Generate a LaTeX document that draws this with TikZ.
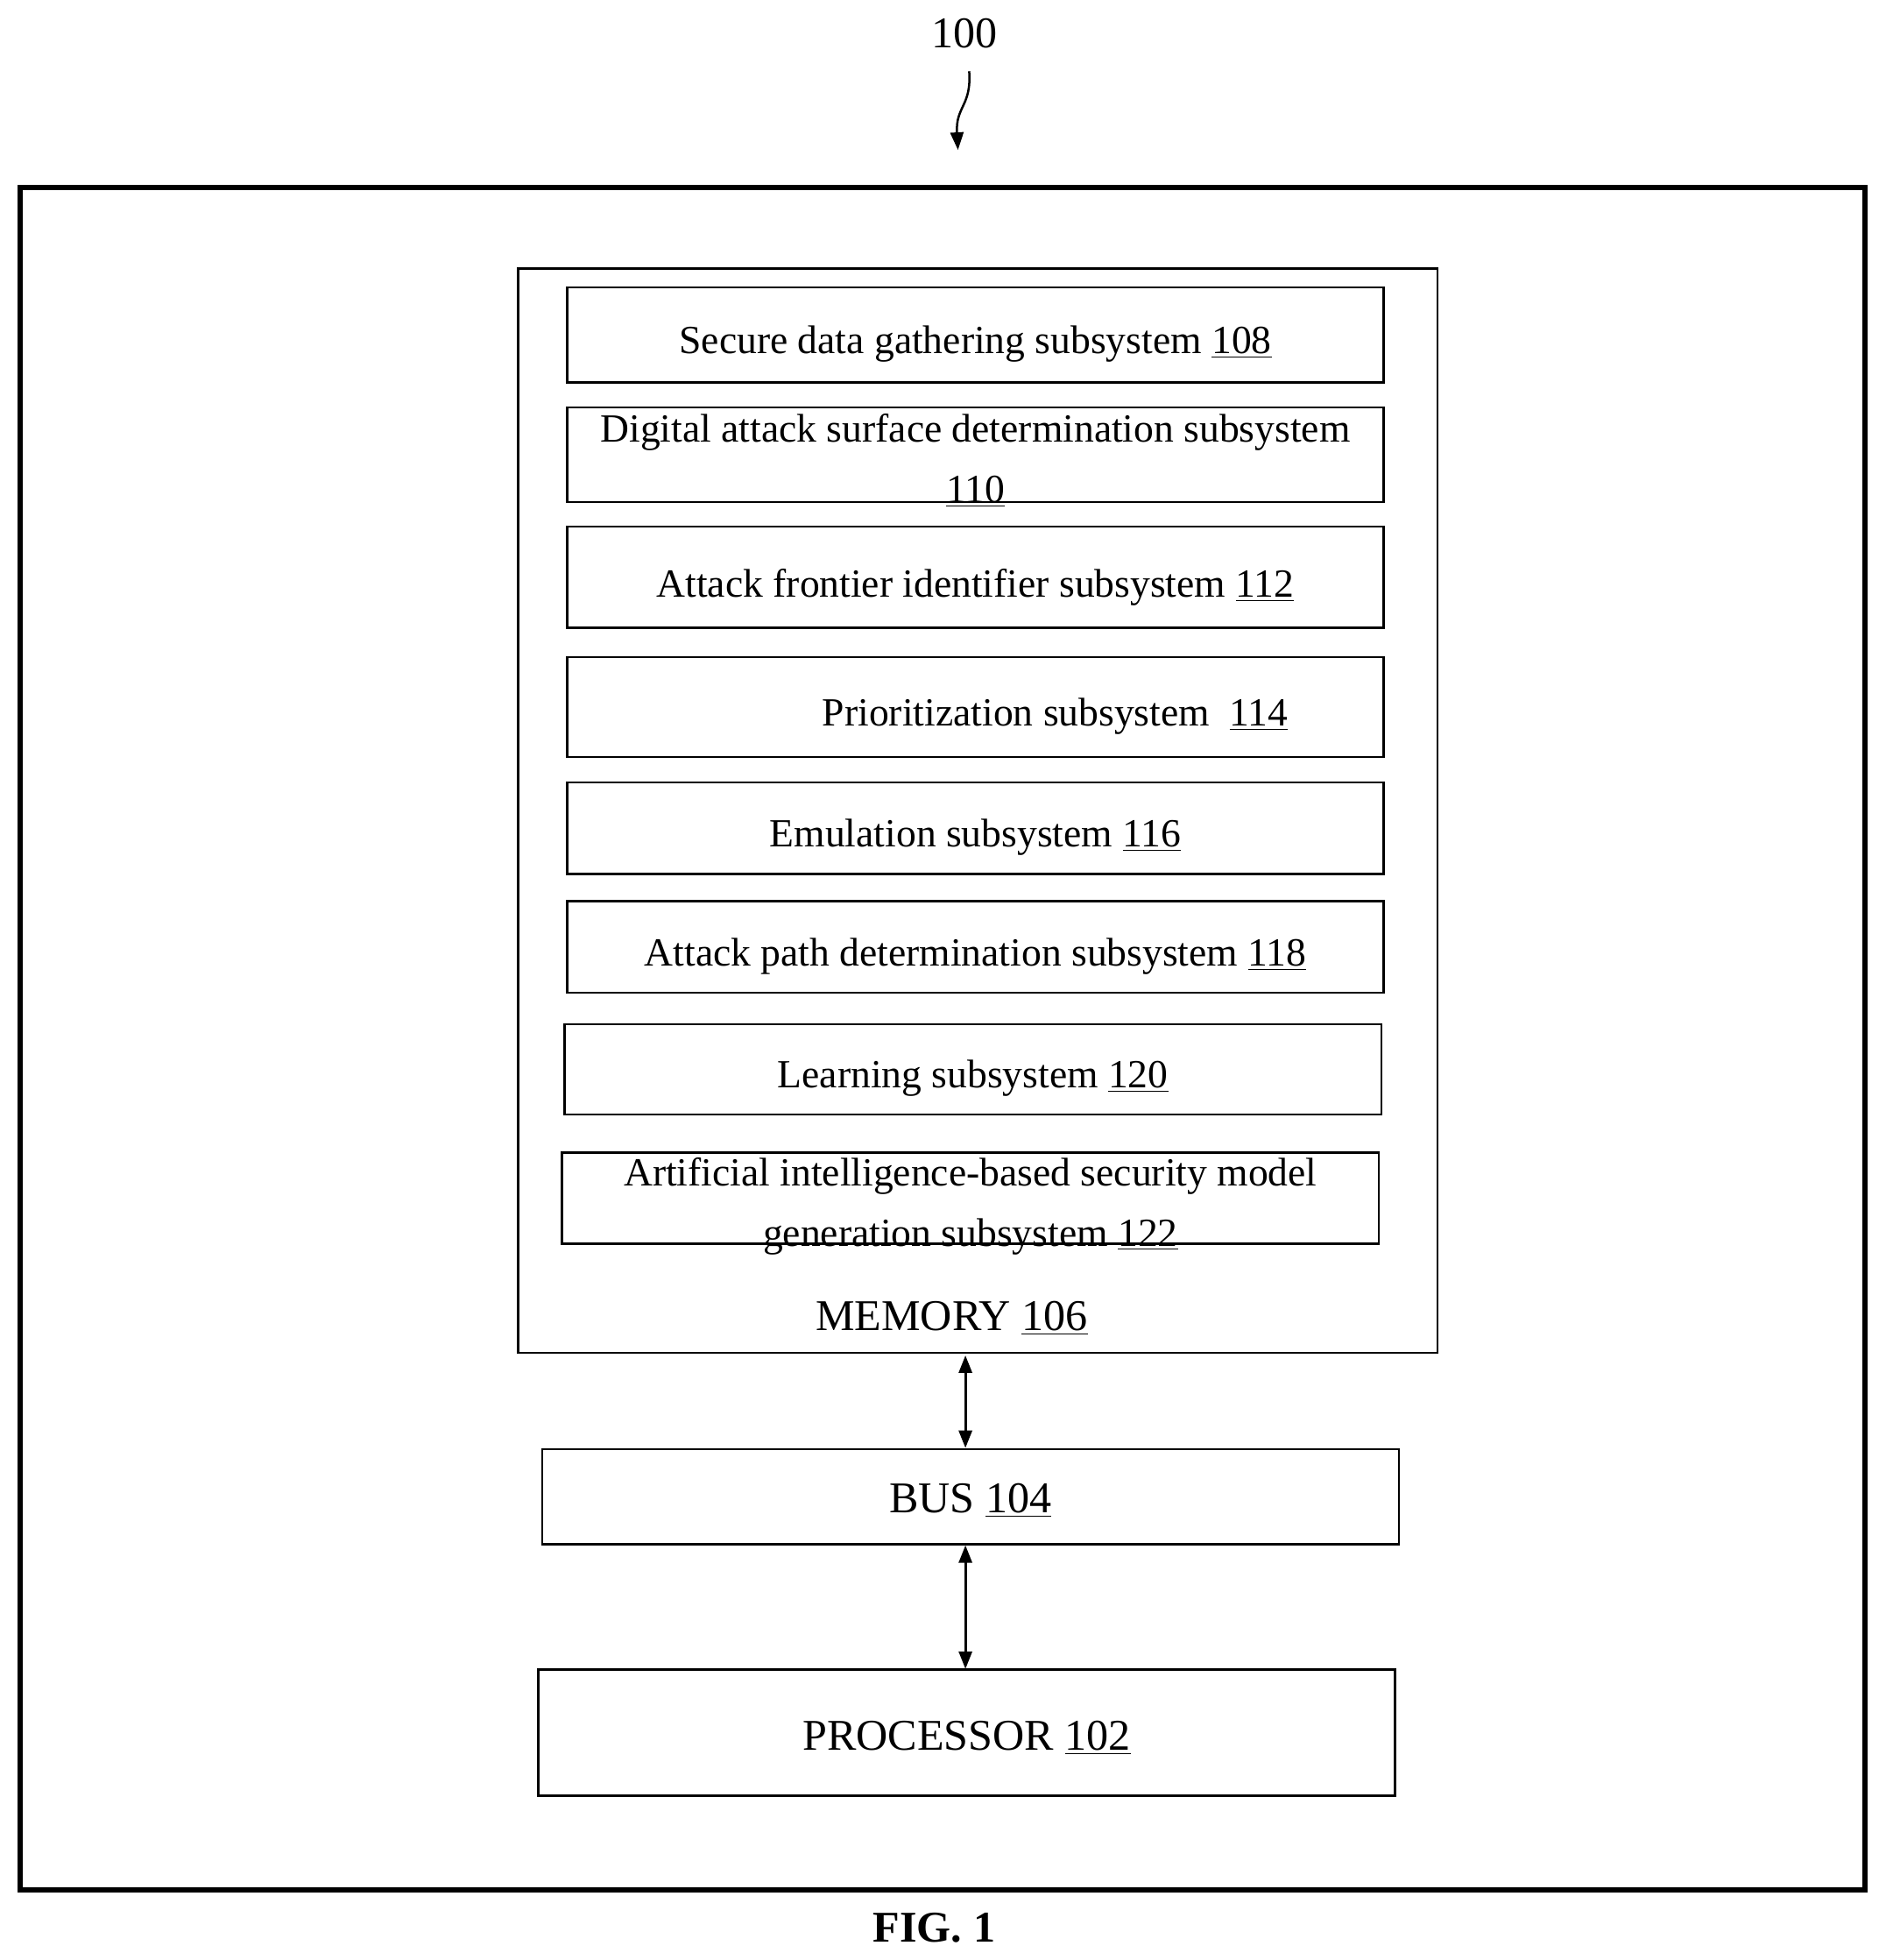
\documentclass[tikz,border=0pt]{standalone}
\usepackage{fontspec}
\setmainfont{Liberation Serif}
\usetikzlibrary{arrows.meta}
\begin{document}
\begin{tikzpicture}[x=0.02cm,y=-0.02cm,
  box/.style={draw,line width=1pt},
  sub/.style={font=\fontsize{18.2}{22}\selectfont,align=center,text depth=0pt},
  big/.style={font=\fontsize{20}{24}\selectfont},
  dbl/.style={{Triangle[length=8pt,width=6pt]}-{Triangle[length=8pt,width=6pt]},line width=1.2pt}]
\useasboundingbox (0,0) rectangle (1510,1569);
\draw[line width=2.5pt] (16,150) rectangle (1493,1513);
\node[big] (lbl) at (772,27) {100};
\coordinate (s0) at (776,57);
\coordinate (s1) at (767,120);
\draw[-{Triangle[length=8pt,width=6pt]},line width=1pt] (s0) .. controls (778,85) and (765,85) .. (s1);
\draw[box] (415,215) rectangle (1151,1083);
\node[box,minimum width=654*0.02cm,minimum height=76*0.02cm] (b108) at (781,268) {};
\node[sub] at (781,272) {Secure data gathering subsystem \underline{108}};
\node[box,minimum width=654*0.02cm,minimum height=76*0.02cm] (b110) at (781,364) {};
\node[sub,font=\fontsize{18.2}{27.5}\selectfont] at (781,367) {Digital attack surface determination subsystem\\\underline{110}};
\node[box,minimum width=654*0.02cm,minimum height=81*0.02cm] (b112) at (781,462) {};
\node[sub] at (781,467) {Attack frontier identifier subsystem \underline{112}};
\node[box,minimum width=654*0.02cm,minimum height=80*0.02cm] (b114) at (781,566) {};
\node[sub] at (781,570) {\hspace*{4em}Prioritization subsystem \ \underline{114}};
\node[box,minimum width=654*0.02cm,minimum height=73*0.02cm] (b116) at (781,663) {};
\node[sub] at (781,667) {Emulation subsystem \underline{116}};
\node[box,minimum width=654*0.02cm,minimum height=73*0.02cm] (b118) at (781,758) {};
\node[sub] at (781,762) {Attack path determination subsystem \underline{118}};
\node[box,minimum width=654*0.02cm,minimum height=72*0.02cm] (b120) at (779,856) {};
\node[sub] at (779,860) {Learning subsystem \underline{120}};
\node[box,minimum width=654*0.02cm,minimum height=73*0.02cm] (b122) at (777,959) {};
\node[sub,font=\fontsize{18.2}{27.5}\selectfont] at (777,962) {Artificial intelligence-based security model\\generation subsystem \underline{122}};
\node[big] (mem) at (762,1055) {MEMORY \underline{106}};
\coordinate (memb) at (773,1085);
\node[box,minimum width=686*0.02cm,minimum height=76*0.02cm] (bus) at (777,1198) {};
\node[big] at (777,1201) {BUS \underline{104}};
\node[box,minimum width=686*0.02cm,minimum height=101*0.02cm] (proc) at (774,1387) {};
\node[big] at (774,1391) {PROCESSOR \underline{102}};
\draw[dbl] (memb) -- (bus.north -| memb);
\draw[dbl] (773,1237) -- (773,1336);
\node[font=\fontsize{20}{24}\selectfont\bfseries] (fig) at (748,1543) {FIG. 1};
\end{tikzpicture}
\end{document}
